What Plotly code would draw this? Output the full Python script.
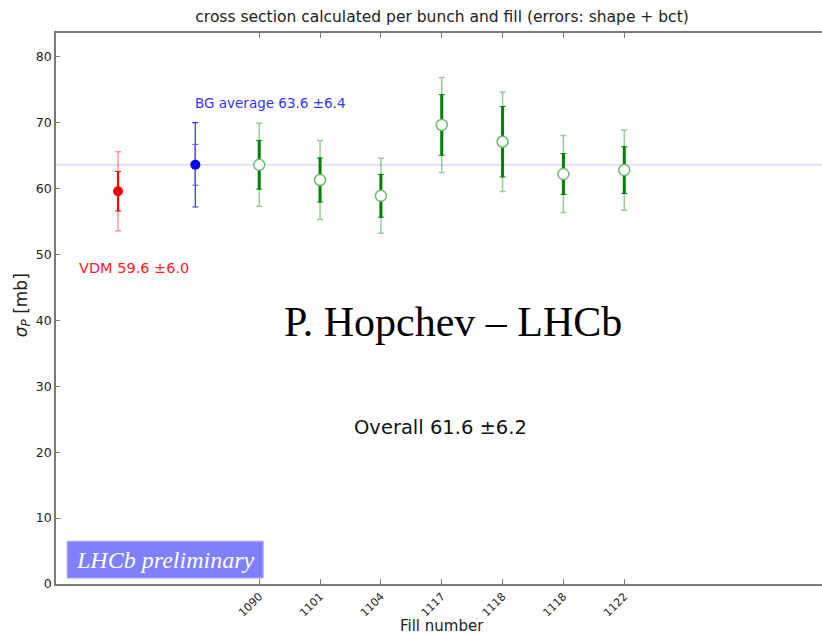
import plotly.graph_objects as go

# ---- data ----
fill_labels = ["1090", "1101", "1104", "1117", "1118", "1118", "1122"]
fill_pos = [4, 5, 6, 7, 8, 9, 10]
green_val = [63.6, 61.3, 58.9, 69.65, 67.1, 62.2, 62.8]
green_inner = [3.7, 3.35, 3.25, 4.6, 5.35, 3.1, 3.55]
green_outer = [6.3, 6.0, 5.7, 7.2, 7.55, 5.85, 6.1]

vdm_pos = [1.68]
vdm_val = [59.6]
vdm_inner = [3.0]
vdm_outer = [6.0]

bg_pos = [2.95]
bg_val = [63.6]
bg_inner = [3.1]
bg_outer = [6.4]

bg_average = 63.6
x_range = [0.66, 13.25]
y_range = [0, 83.6]
y_ticks = [0, 10, 20, 30, 40, 50, 60, 70, 80]

FONT = "DejaVu Sans"

fig = go.Figure()

# BG average line
fig.add_trace(go.Scatter(x=x_range, y=[bg_average, bg_average], mode="lines",
                         line=dict(color="rgba(120,120,255,0.35)", width=1.2),
                         hoverinfo="skip", showlegend=False))

def err_trace(x, y, arr, color, thick, width):
    return go.Scatter(x=x, y=y, mode="markers",
                      marker=dict(size=1, color="rgba(0,0,0,0)"),
                      error_y=dict(type="data", array=arr, color=color,
                                   thickness=thick, width=width),
                      hoverinfo="skip", showlegend=False)

def add_point(x, y, inner, outer, c_outer, c_inner, w_outer, w_inner, marker):
    fig.add_trace(err_trace(x, y, outer, c_outer, w_outer, 3))
    fig.add_trace(err_trace(x, y, inner, c_inner, w_inner, 0))
    fig.add_trace(err_trace(x, y, inner, c_inner, 1, 3))
    fig.add_trace(go.Scatter(x=x, y=y, mode="markers", marker=marker, showlegend=False))

add_point(vdm_pos, vdm_val, vdm_inner, vdm_outer, "rgba(255,0,0,0.4)", "#ff0000", 1.5, 2.2,
          dict(size=10, color="#ff0000"))
add_point(bg_pos, bg_val, bg_inner, bg_outer, "#3030ff", "#5050ff", 1.2, 1.2,
          dict(size=10, color="#0000ff"))
add_point(fill_pos, green_val, green_inner, green_outer, "rgba(0,128,0,0.4)", "#008000", 1.5, 3,
          dict(size=11, color="white", line=dict(color="#70b870", width=1.5)))

# invisible trace for top axis
fig.add_trace(go.Scatter(x=x_range, y=[None, None], xaxis="x2", mode="markers",
                         marker=dict(size=1, color="rgba(0,0,0,0)"), showlegend=False,
                         hoverinfo="skip"))

axis_col = "#7a7a7a"
fig.update_layout(
    width=822, height=635,
    margin=dict(l=56, r=0, t=33, b=51),
    paper_bgcolor="white", plot_bgcolor="white",
    font=dict(family=FONT, color="#222"),
    title=dict(text="cross section calculated per bunch and fill (errors: shape + bct)",
               x=0.504, xref="paper", y=1 - 17 / 635, yref="container",
               xanchor="center", yanchor="middle", font=dict(size=15.5, color="#222")),
    xaxis=dict(range=x_range, tickvals=fill_pos, ticktext=fill_labels, tickangle=-45,
               ticks="inside", ticklen=5, tickcolor=axis_col, showgrid=False,
               zeroline=False, showline=True, linecolor=axis_col, linewidth=1.5,
               tickfont=dict(size=11, family=FONT, color="#222")),
    xaxis2=dict(range=x_range, overlaying="x", side="top", matches="x",
                tickvals=fill_pos, showticklabels=False, ticks="inside", ticklen=5,
                tickcolor=axis_col, showgrid=False, zeroline=False, showline=True,
                linecolor=axis_col, linewidth=1.5),
    yaxis=dict(range=y_range, tickvals=y_ticks, ticks="inside", ticklen=4,
               tickcolor=axis_col, showgrid=False, zeroline=False, showline=True,
               linecolor=axis_col, linewidth=1.5,
               tickfont=dict(size=12.5, family=FONT, color="#222")),
)

# LHCb preliminary box
fig.add_shape(type="rect", xref="x", yref="y", x0=0.844, x1=4.065, y0=0.9, y1=6.5,
              fillcolor="#8080ff", line=dict(color="#a8a8ff", width=1), layer="above")

ann = [
    dict(text="BG average 63.6 ±6.4", x=2.915, y=73.0, xanchor="left",
         font=dict(size=13.5, color="#3333ff", family=FONT)),
    dict(text="VDM 59.6 ±6.0", x=1.008, y=47.95, xanchor="left",
         font=dict(size=14.5, color="#ff2020", family=FONT)),
    dict(text="P. Hopchev – LHCb", x=7.19, y=39.8, xanchor="center",
         font=dict(size=42, color="black", family="Liberation Serif")),
    dict(text="Overall 61.6 ±6.2", x=6.975, y=23.8, xanchor="center",
         font=dict(size=19.5, color="#111", family=FONT)),
    dict(text="<i>LHCb preliminary</i>", x=2.455, y=3.7, xanchor="center",
         font=dict(size=24, color="white", family="Liberation Serif")),
]
for a in ann:
    fig.add_annotation(xref="x", yref="y", yanchor="middle", showarrow=False, **a)

fig.add_annotation(text="Fill number", xref="paper", yref="paper", x=0.504,
                   y=(584 - 626) / 551, xanchor="center", yanchor="middle",
                   showarrow=False, font=dict(size=15, family=FONT, color="#222"))
fig.add_annotation(text="<i>σ<sub>P</sub></i> [mb]", xref="paper", yref="paper",
                   x=(22 - 56) / 766, y=0.506, xanchor="center", yanchor="middle",
                   textangle=-90, showarrow=False,
                   font=dict(size=17, family=FONT, color="#222"))

fig.write_html("out.html")
